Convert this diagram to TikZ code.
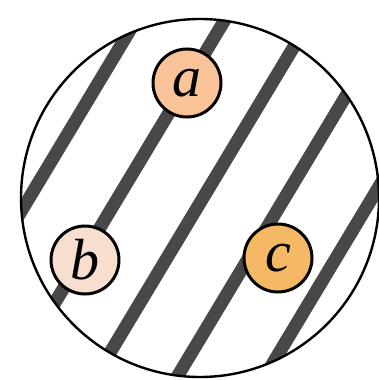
\documentclass[tikz,border=0pt]{standalone}
\usepackage{fontspec}
\setmainfont{Liberation Serif}
\usepackage{tikz}
\usetikzlibrary{positioning}
\usepackage{xcolor}
\definecolor{stripegray}{RGB}{72,72,72}
\definecolor{afill}{RGB}{250,196,152}
\definecolor{bfill}{RGB}{248,222,206}
\definecolor{cfill}{RGB}{245,184,100}

\begin{document}
\begin{tikzpicture}[
  x=0.5pt, y=-0.5pt,
  stripe/.style={draw=stripegray, line width=6.5pt},
  pt/.style={circle, draw, line width=1.5pt, minimum size=34pt, inner sep=0pt,
    font=\fontsize{29}{31}\selectfont\itshape},
  rim/.style={draw, line width=1.2pt}
]
\useasboundingbox (0,0) rectangle (379,380);

% Disc with diagonal stripes
\coordinate (o) at (200,198);
\begin{scope}
  \clip (o) circle[radius=179];
  \foreach \s in {127,203,276,346,421}
    \draw[stripe] ({\s*0.857+420*0.515},{\s*0.515-420*0.857})
      -- ({\s*0.857-420*0.515},{\s*0.515+420*0.857});
\end{scope}
\draw[rim] (o) circle[radius=179];

% Points
\node[pt, fill=afill] (a) at (187,83) {a};
\node[pt, fill=bfill] (b) at (85,260) {b};
\node[pt, fill=cfill] (c) at (278,258) {c};

\end{tikzpicture}
\end{document}
